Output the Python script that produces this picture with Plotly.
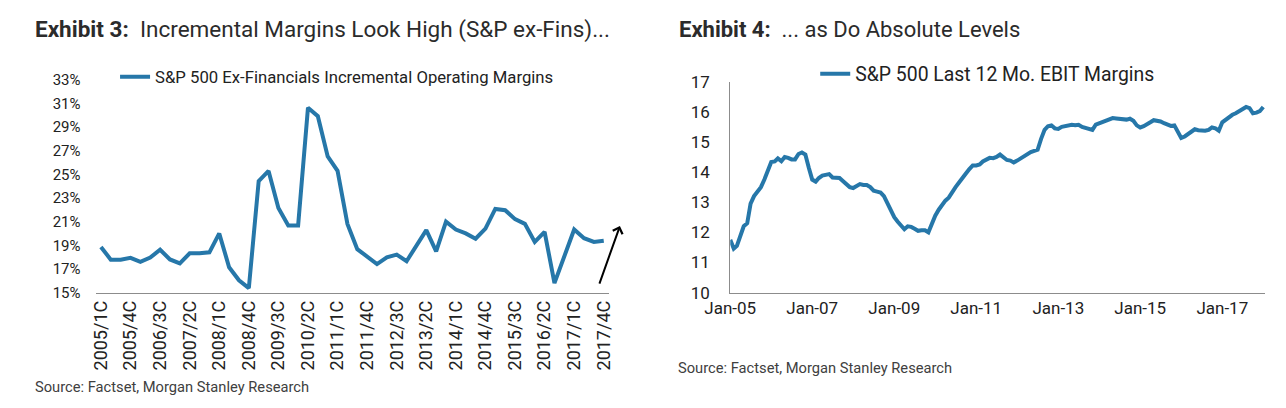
import plotly.graph_objects as go
import pandas as pd

# ---------------- data ----------------
quarters = [f"{y}/{q}C" for y in range(2005, 2018) for q in range(1, 5)]
incr_margin = [18.86, 17.78, 17.78, 17.94, 17.6, 17.96, 18.62, 17.8, 17.46, 18.32,
               18.32, 18.4, 20.0, 17.14, 16.04, 15.37, 24.43, 25.29, 22.15, 20.68,
               20.68, 30.64, 29.92, 26.52, 25.29, 20.81, 18.67, 18.05, 17.41, 17.98,
               18.21, 17.65, 18.94, 20.28, 18.48, 21.0, 20.33, 20.0, 19.55, 20.41,
               22.07, 21.97, 21.21, 20.81, 19.28, 20.14, 15.8, 17.98, 20.33, 19.6,
               19.28, 19.39]
quarter_ticks = quarters[::3]

months = pd.date_range("2005-01-01", periods=157, freq="MS")
ebit_margin = [11.75, 11.46, 11.55, 11.9, 12.2, 12.3, 12.95, 13.2, 13.35, 13.5,
               13.75, 14.05, 14.33, 14.35, 14.45, 14.36, 14.5, 14.47, 14.42, 14.42,
               14.6, 14.65, 14.58, 14.15, 13.75, 13.68, 13.8, 13.88, 13.92, 13.93,
               13.82, 13.8, 13.8, 13.7, 13.6, 13.5, 13.47, 13.55, 13.6, 13.57,
               13.57, 13.5, 13.38, 13.35, 13.32, 13.2, 12.95, 12.72, 12.5, 12.35,
               12.25, 12.1, 12.2, 12.18, 12.12, 12.05, 12.07, 12.07, 12.0, 12.3,
               12.55, 12.75, 12.9, 13.05, 13.15, 13.35, 13.5, 13.65, 13.78, 13.95,
               14.1, 14.22, 14.22, 14.25, 14.35, 14.42, 14.47, 14.46, 14.5, 14.58,
               14.48, 14.4, 14.38, 14.32, 14.38, 14.45, 14.52, 14.62, 14.66, 14.7,
               14.74, 15.1, 15.4, 15.52, 15.55, 15.45, 15.43, 15.5, 15.53, 15.56,
               15.57, 15.55, 15.57, 15.5, 15.47, 15.42, 15.4, 15.57, 15.62, 15.67,
               15.72, 15.76, 15.79, 15.78, 15.77, 15.75, 15.74, 15.77, 15.7, 15.55,
               15.48, 15.52, 15.57, 15.65, 15.72, 15.7, 15.68, 15.62, 15.58, 15.53,
               15.55, 15.32, 15.13, 15.18, 15.26, 15.35, 15.42, 15.39, 15.37, 15.37,
               15.4, 15.48, 15.45, 15.37, 15.65, 15.75, 15.84, 15.9, 15.95, 16.02,
               16.09, 16.16, 16.12, 15.95, 15.97, 16.02, 16.16]
date_ticks = pd.to_datetime([f"{y}-01-01" for y in range(2005, 2018, 2)])

# ---------------- style ----------------
# the page body adds an 8px margin, so the figure is 8px smaller than the window
OFF = 8
W, H = 1286 - OFF, 408 - OFF
BLUE = "#2677a9"
AXIS = "#8c8c8c"
FONT = "Roboto"
TXT = "#222222"


def px_x(p):
    return (p - OFF) / W


def px_y(p):
    return 1 - (p - OFF) / H


fig = go.Figure()
fig.add_trace(go.Scatter(x=quarters, y=incr_margin, mode="lines",
                         line=dict(color=BLUE, width=4),
                         name="S&P 500 Ex-Financials Incremental Operating Margins",
                         xaxis="x", yaxis="y", legend="legend"))
fig.add_trace(go.Scatter(x=months, y=ebit_margin, mode="lines",
                         line=dict(color=BLUE, width=4),
                         name="S&P 500 Last 12 Mo. EBIT Margins",
                         xaxis="x2", yaxis="y2", legend="legend2"))

fig.update_layout(
    width=W, height=H, autosize=False,
    margin=dict(l=0, r=0, t=0, b=0),
    paper_bgcolor="white", plot_bgcolor="white",
    font=dict(family=FONT, color=TXT), showlegend=True,
    xaxis=dict(domain=[px_x(71), px_x(597)], anchor="y", type="category",
               range=[-0.55, 51.55], tickmode="array", tickvals=quarter_ticks,
               ticktext=quarter_ticks, tickangle=-90,
               tickfont=dict(size=18, color=TXT), showline=True, linecolor=AXIS,
               linewidth=1, showgrid=False, ticks="", zeroline=False),
    yaxis=dict(domain=[px_y(297), px_y(73)], anchor="x", range=[15, 33], tick0=15,
               dtick=2, ticksuffix="%", tickfont=dict(size=15, color=TXT),
               showline=False, showgrid=False, zeroline=False, ticks="",
               ticklabelstandoff=14),
    xaxis2=dict(domain=[px_x(721), px_x(1269)], anchor="y2", type="date",
                range=["2005-01-01", "2018-01-20"], tickmode="array",
                tickvals=date_ticks, tickformat="%b-%y",
                tickfont=dict(size=17, color=TXT), showline=True, linecolor=AXIS,
                linewidth=1, showgrid=False, ticks="", zeroline=False),
    yaxis2=dict(domain=[px_y(297), px_y(75)], anchor="x2", range=[10, 17], tick0=10,
                dtick=1, tickfont=dict(size=17, color=TXT), showline=True,
                linecolor=AXIS, linewidth=1, showgrid=False, zeroline=False,
                ticks="", ticklabelstandoff=16),
    legend=dict(x=px_x(91), y=px_y(70), xanchor="left", yanchor="middle",
                font=dict(size=16.7, color=TXT), bgcolor="rgba(0,0,0,0)"),
    legend2=dict(x=px_x(808), y=px_y(67), xanchor="left", yanchor="middle",
                 font=dict(size=19.4, color=TXT), bgcolor="rgba(0,0,0,0)"),
)

annotations = [
    dict(text="<b>Exhibit 3:</b>  Incremental Margins Look High (S&P ex-Fins)...",
         x=px_x(7), y=px_y(20), xref="paper", yref="paper", xanchor="left",
         yanchor="middle", showarrow=False, font=dict(size=22.5, color="#2b2b2b")),
    dict(text="<b>Exhibit 4:</b>  ... as Do Absolute Levels",
         x=px_x(666), y=px_y(20), xref="paper", yref="paper", xanchor="left",
         yanchor="middle", showarrow=False, font=dict(size=22, color="#2b2b2b")),
    dict(text="Source: Factset, Morgan Stanley Research",
         x=px_x(7), y=px_y(396), xref="paper", yref="paper", xanchor="left",
         yanchor="middle", showarrow=False, font=dict(size=14.7, color="#404040")),
    dict(text="Source: Factset, Morgan Stanley Research",
         x=px_x(665), y=px_y(376), xref="paper", yref="paper", xanchor="left",
         yanchor="middle", showarrow=False, font=dict(size=14.7, color="#404040")),
    dict(text="", x=px_x(608), y=px_y(227), xref="paper", yref="paper",
         ax=-21, ay=59, showarrow=True, arrowhead=4, arrowsize=1,
         arrowwidth=2, arrowcolor="black"),
]
fig.update_layout(annotations=annotations)

fig.write_html("out.html")
